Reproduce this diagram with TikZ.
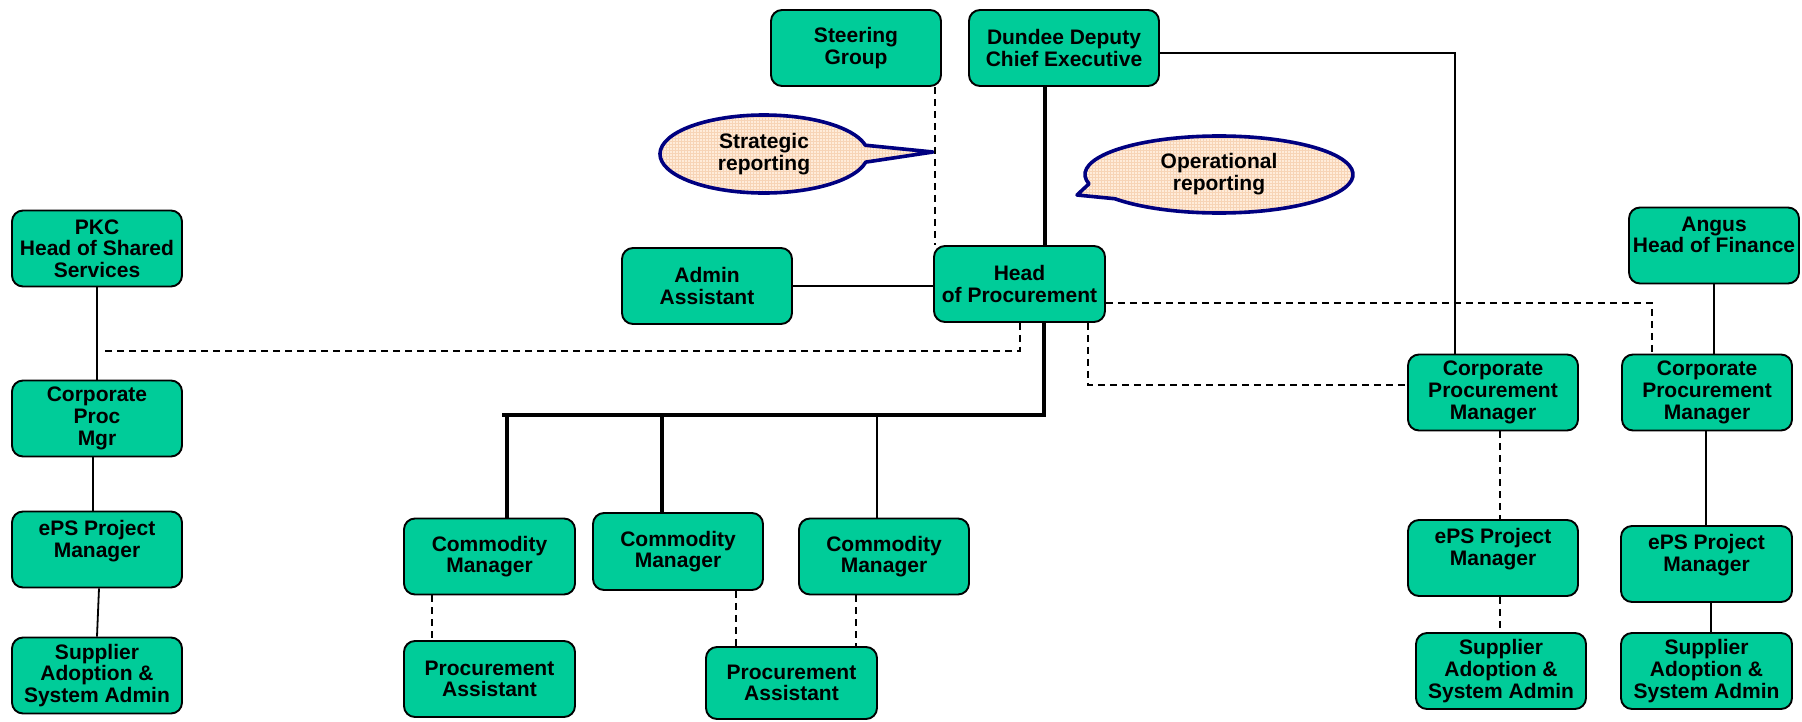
\documentclass[tikz,border=0pt]{standalone}
\usepackage{fontspec}
\setmainfont{Liberation Sans}
\usetikzlibrary{calc}

\definecolor{boxgreen}{RGB}{0,204,153}
\definecolor{calloutfill}{RGB}{255,236,218}
\definecolor{calloutgrid}{RGB}{247,212,182}
\definecolor{calloutedge}{RGB}{0,0,128}

\begin{document}
\begin{tikzpicture}[x=1pt,y=-1pt,
  orgbox/.style={draw=black, line width=1.9pt, fill=boxgreen, rounded corners=11pt,
    minimum width=170pt, minimum height=76pt, inner sep=0pt, align=center,
    font=\fontsize{21}{21.7}\selectfont\bfseries},
  link/.style={line width=1.8pt},
  trunk/.style={line width=4pt},
  report/.style={line width=1.8pt, dash pattern=on 7pt off 5pt},
  bubble/.style={draw=calloutedge, line width=3.6pt, line join=round},
  bubbletext/.style={align=center, inner sep=0pt, font=\fontsize{21}{22}\selectfont\bfseries}
]
\useasboundingbox (0,0) rectangle (1802,721);

% ---- callouts ----
\begin{scope}
  \clip (764,154) ++(12:104 and 39) arc[start angle=12,end angle=347,x radius=104,y radius=39] -- (933,152) -- cycle;
  \fill[calloutfill] (650,100) rectangle (940,210);
  \draw[calloutgrid, line width=0.5pt, step=3pt] (650,210) grid (940,100);
\end{scope}
\draw[bubble] (764,154) ++(12:104 and 39) arc[start angle=12,end angle=347,x radius=104,y radius=39] -- (933,152) -- cycle;
\node[bubbletext] (strat) at (764,154) {Strategic\\reporting};

\begin{scope}
  \clip (1219,174.5) ++(166:134 and 38.5) arc[start angle=166,end angle=501,x radius=134,y radius=38.5] -- (1077,195) -- cycle;
  \fill[calloutfill] (1070,130) rectangle (1360,220);
  \draw[calloutgrid, line width=0.5pt, step=3pt] (1070,220) grid (1360,130);
\end{scope}
\draw[bubble] (1219,174.5) ++(166:134 and 38.5) arc[start angle=166,end angle=501,x radius=134,y radius=38.5] -- (1077,195) -- cycle;
\node[bubbletext] (oper) at (1219,174) {Operational\\reporting};

% ---- boxes ----
\node[orgbox] (steer) at (856,48) {Steering\\Group};
\node[orgbox, minimum width=190pt] (dundee) at (1064,48) {Dundee Deputy\\Chief Executive};
\node[orgbox] (pkc) at (97,248.5) {PKC\\Head of Shared\\Services};
\node[orgbox] (admin) at (707,286) {Admin\\Assistant};
\node[orgbox, minimum width=171pt] (head) at (1019.5,284) {Head\\of Procurement};
\node[orgbox] (angus) at (1714,245.5) {Angus\\Head of Finance\\\mbox{}};

\node[orgbox] (cpmL) at (97,418.5) {Corporate\\Proc\\ Mgr};
\node[orgbox] (cpmM) at (1493,392.5) {Corporate\\Procurement\\Manager};
\node[orgbox] (cpmR) at (1707,392.5) {Corporate\\Procurement\\Manager};

\node[orgbox] (epsL) at (97,549.5) {ePS Project\\Manager\\\mbox{}};
\node[orgbox] (epsM) at (1493,558) {ePS Project\\Manager\\\mbox{}};
\node[orgbox, minimum width=171pt] (epsR) at (1706.5,564) {ePS Project\\Manager\\\mbox{}};

\node[orgbox] (supL) at (97,675.5) {Supplier\\Adoption \&\\System Admin};
\node[orgbox] (supM) at (1501,671) {Supplier\\Adoption \&\\System Admin};
\node[orgbox, minimum width=171pt] (supR) at (1706.5,671) {Supplier\\Adoption \&\\System Admin};

\node[orgbox, minimum width=171pt] (com1) at (489.5,556.5) {Commodity\\Manager};
\node[orgbox, minimum height=77pt] (com2) at (678,551.5) {Commodity\\Manager};
\node[orgbox] (com3) at (884,556.5) {Commodity\\Manager};
\node[orgbox, minimum width=171pt] (pa1) at (489.5,679) {Procurement\\Assistant};
\node[orgbox, minimum width=171pt, minimum height=72pt] (pa2) at (791.5,683) {Procurement\\Assistant};

% ---- reporting lines ----
\coordinate (sgx) at (935,0);
\draw[report] (steer.south -| sgx) -- (head.north -| sgx);

\coordinate (spine) at (1045,0);
\draw[trunk] (dundee.south -| spine) -- (head.north -| spine);

\coordinate (dcorner) at (1455,53);
\draw[link] (dcorner -| dundee.east) -- (dcorner) -- (dcorner |- cpmM.north);

\draw[link] (admin.east) -- (admin.east -| head.west);

\coordinate (hl) at (1020,351);
\coordinate (pkcjoin) at (104,351);
\draw[report] (head.south -| hl) -- (hl) -- (pkcjoin);

\coordinate (hm) at (1088,385);
\draw[report] (head.south -| hm) -- (hm) -- (hm -| cpmM.west);

\coordinate (hr) at (1652,303);
\draw[report] (hr -| head.east) -- (hr) -- (hr |- cpmR.north);

\coordinate (ax) at (1714,0);
\draw[link] (angus.south -| ax) -- (cpmR.north -| ax);

\coordinate (mx) at (1500,0);
\draw[report] (cpmM.south -| mx) -- (epsM.north -| mx);
\draw[report] (epsM.south -| mx) -- (supM.north -| mx);

\coordinate (rx1) at (1706,0);
\coordinate (rx2) at (1711,0);
\draw[link] (cpmR.south -| rx1) -- (epsR.north -| rx1);
\draw[link] (epsR.south -| rx2) -- (supR.north -| rx2);

\coordinate (lx1) at (93,0);
\coordinate (lx2) at (99,0);
\coordinate (lx3) at (97,0);
\draw[link] (pkc.south) -- (cpmL.north);
\draw[link] (cpmL.south -| lx1) -- (epsL.north -| lx1);
\draw[link] (epsL.south -| lx2) -- (supL.north -| lx3);

% ---- commodity team ----
\coordinate (barR) at (1044,415);
\coordinate (barL) at (502,415);
\draw[trunk] (head.south -| barR) -- (barR) -- (barL);

\coordinate (d1) at (507,415);
\coordinate (d2) at (662,415);
\coordinate (d3) at (877,415);
\draw[trunk] (d1) -- (d1 |- com1.north);
\draw[trunk] (d2) -- (d2 |- com2.north);
\draw[link] (d3) -- (d3 |- com3.north);

\coordinate (cx1) at (432,0);
\coordinate (cx2) at (736,0);
\coordinate (cx3) at (856,0);
\draw[report] (com1.south -| cx1) -- (pa1.north -| cx1);
\draw[report] (com2.south -| cx2) -- (pa2.north -| cx2);
\draw[report] (com3.south -| cx3) -- (pa2.north -| cx3);
\end{tikzpicture}
\end{document}
